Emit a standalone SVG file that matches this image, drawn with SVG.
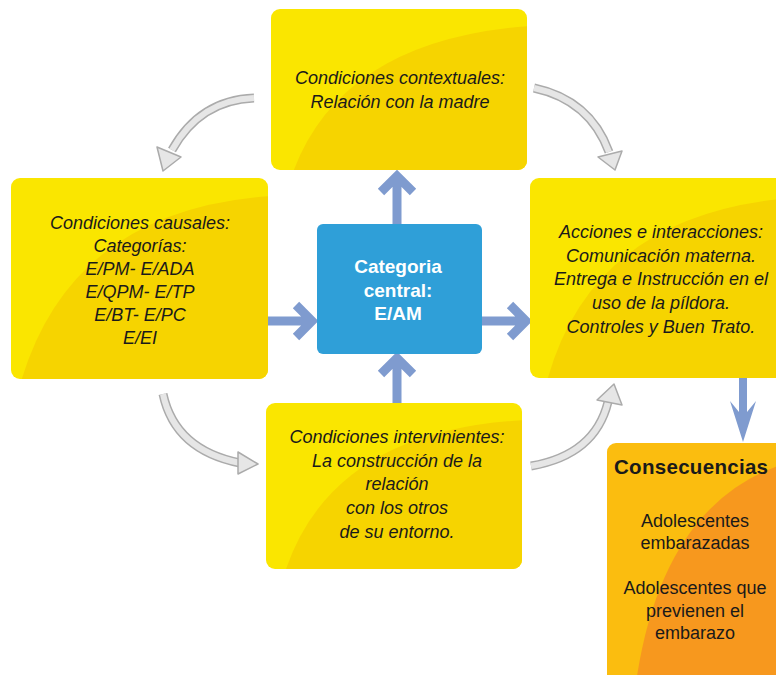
<svg xmlns="http://www.w3.org/2000/svg" width="776" height="675" viewBox="0 0 776 675">
<defs>
<style>
.yl{fill:#FAE600}
.yd{fill:#F6D400}
.t{font-family:"Liberation Sans Narrow","Liberation Sans",Arial,sans-serif;font-style:italic;font-size:18px;fill:#1a1a1a;text-anchor:middle}
.c{font-family:"Liberation Sans Narrow","Liberation Sans",Arial,sans-serif;font-weight:bold;font-size:19px;fill:#ffffff;text-anchor:middle}
.q{font-family:"Liberation Sans Narrow","Liberation Sans",Arial,sans-serif;font-size:18px;fill:#1a1a1a;text-anchor:middle}
.ba{fill:none;stroke:#7F9BCF;stroke-width:9;stroke-linejoin:miter}
.ga{fill:none;stroke:#ABABAB;stroke-width:9;stroke-linecap:butt}
.gi{fill:none;stroke:#E6E6E6;stroke-width:6;stroke-linecap:butt}
.gh{fill:#E6E6E6;stroke:#ABABAB;stroke-width:1.5;stroke-linejoin:round}
</style>
<clipPath id="cT"><rect x="271" y="9" width="256" height="161" rx="9"/></clipPath>
<clipPath id="cL"><rect x="11" y="178" width="257" height="201" rx="9"/></clipPath>
<clipPath id="cR"><rect x="530" y="178" width="260" height="200" rx="9"/></clipPath>
<clipPath id="cB"><rect x="266" y="403" width="256" height="166" rx="9"/></clipPath>
<clipPath id="cC"><rect x="607" y="443" width="190" height="250" rx="9"/></clipPath>
</defs>

<g id="connectors">
<path class="ba" d="M397 224 V176 M381 192 L397 176 L413 192"/>
<path class="ba" d="M397 403 V358 M381 374 L397 358 L413 374"/>
<path class="ba" d="M268 321 H312 M296 305 L312 321 L296 337"/>
<path class="ba" d="M482 321 H526 M510 305 L526 321 L510 337"/>
<path d="M739 378 V412 L730 401 L743 442 L756 401 L747 412 V378 Z" fill="#7F9BCF"/>
<path class="ga" d="M254 98 Q200 100 172 150"/>
<path class="gi" d="M254 98 Q200 100 172 150"/>
<polygon class="gh" points="157,147 181,157 163,171"/>
<path class="ga" d="M534 88 Q590 100 609 152"/>
<path class="gi" d="M534 88 Q590 100 609 152"/>
<polygon class="gh" points="598,157 622,151 615,170"/>
<path class="ga" d="M163 394 Q175 450 240 463"/>
<path class="gi" d="M163 394 Q175 450 240 463"/>
<polygon class="gh" points="238,452 258,464 238,474"/>
<path class="ga" d="M531 466 Q595 455 608 402"/>
<path class="gi" d="M531 466 Q595 455 608 402"/>
<polygon class="gh" points="597,400 614,384 622,405"/>
</g>

<g id="contextuales">
<rect class="yl" x="271" y="9" width="256" height="161" rx="9"/>
<path class="yd" clip-path="url(#cT)" d="M292 175 Q340 40 530 26 L530 175 Z"/>
<text class="t" x="400" y="84">Condiciones contextuales:</text>
<text class="t" x="400" y="108">Relación con la madre</text>
</g>

<g id="causales">
<rect class="yl" x="11" y="178" width="257" height="201" rx="9"/>
<path class="yd" clip-path="url(#cL)" d="M20 385 Q70 210 270 196 L270 385 Z"/>
<text class="t" x="140" y="229">Condiciones causales:</text>
<text class="t" x="140" y="252">Categorías:</text>
<text class="t" x="140" y="275">E/PM- E/ADA</text>
<text class="t" x="140" y="298">E/QPM- E/TP</text>
<text class="t" x="140" y="321">E/BT- E/PC</text>
<text class="t" x="140" y="344">E/EI</text>
</g>

<g id="acciones">
<rect class="yl" x="530" y="178" width="260" height="200" rx="9"/>
<path class="yd" clip-path="url(#cR)" d="M546 385 Q590 215 790 198 L790 385 Z"/>
<text class="t" x="661" y="238">Acciones e interacciones:</text>
<text class="t" x="661" y="262">Comunicación materna.</text>
<text class="t" x="661" y="285">Entrega e Instrucción en el</text>
<text class="t" x="661" y="309">uso de la píldora.</text>
<text class="t" x="661" y="333">Controles y Buen Trato.</text>
</g>

<g id="intervinientes">
<rect class="yl" x="266" y="403" width="256" height="166" rx="9"/>
<path class="yd" clip-path="url(#cB)" d="M284 575 Q330 430 525 420 L525 575 Z"/>
<text class="t" x="397" y="443">Condiciones intervinientes:</text>
<text class="t" x="397" y="467">La construcción de la</text>
<text class="t" x="397" y="490">relación</text>
<text class="t" x="397" y="514">con los otros</text>
<text class="t" x="397" y="538">de su entorno.</text>
</g>

<g id="central">
<rect x="317" y="224" width="165" height="130" rx="6" fill="#2F9FD8"/>
<text class="c" x="398" y="273">Categoria</text>
<text class="c" x="398" y="297">central:</text>
<text class="c" x="398" y="320">E/AM</text>
</g>

<g id="consecuencias">
<rect x="607" y="443" width="190" height="250" rx="9" fill="#FBBD0F"/>
<path clip-path="url(#cC)" fill="#F7981E" d="M635 690 Q660 500 790 462 L790 690 Z"/>
<text x="614" y="474" style="font-family:'Liberation Sans',Arial,sans-serif;font-weight:bold;font-size:20.5px;letter-spacing:0.3px;fill:#1a1a1a">Consecuencias</text>
<text class="q" x="695" y="527">Adolescentes</text>
<text class="q" x="695" y="549">embarazadas</text>
<text class="q" x="695" y="594">Adolescentes que</text>
<text class="q" x="695" y="617">previenen el</text>
<text class="q" x="695" y="639">embarazo</text>
</g>
</svg>
